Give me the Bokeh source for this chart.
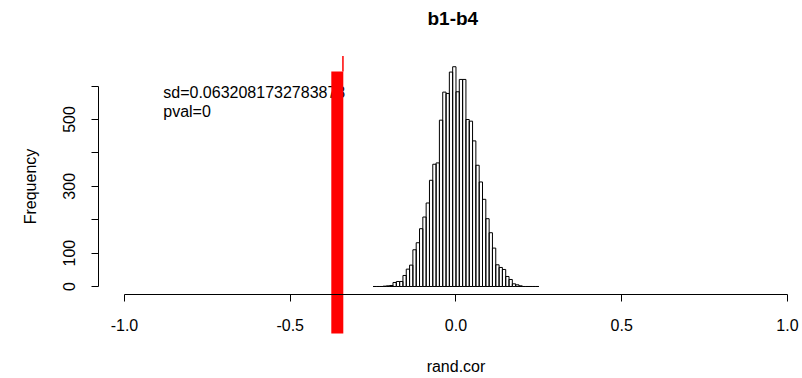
import numpy as np
from bokeh.plotting import figure
from bokeh.models import LinearAxis, Range1d, FixedTicker, Title, ColumnDataSource
from bokeh.embed import file_html
from bokeh.resources import INLINE
from bokeh.core.properties import value

# ---- data ----
bin_start = -0.25
bin_width = 0.01
counts = [0, 0, 0, 1, 2, 3, 12, 15, 15, 33, 52, 64, 110, 131, 173, 208, 250, 318,
          366, 370, 498, 582, 578, 642, 658,
          583, 620, 620, 500, 495, 436, 363, 313, 261, 203, 161, 115, 65, 57, 51,
          30, 21, 8, 5, 2, 0, 0, 0, 0, 0]
observed_cor = [-0.358]
observed_bar_y = [-141, 644]
observed_line_x = [-0.341]
observed_line_y = [644, 690]
sd_text = "sd=0.0632081732783878"
pval_text = "pval=0"
annot_x = [-0.883, -0.883]
annot_y = [581, 524]
x_ticks = [-1.0, -0.5, 0.0, 0.5, 1.0]
x_tick_labels = ["-1.0", "-0.5", "0.0", "0.5", "1.0"]
y_ticks = [0, 100, 200, 300, 400, 500, 600]
y_tick_labels = ["0", "100", "", "300", "", "500", ""]

n = len(counts)
left = [round(bin_start + bin_width * i, 4) for i in range(n)]
right = [round(bin_start + bin_width * (i + 1), 4) for i in range(n)]
src = ColumnDataSource(dict(left=left, right=right, top=counts, bottom=[0] * n))

FONT = "Liberation Sans"

p = figure(frame_width=800, frame_height=342, output_backend="svg",
           toolbar_location=None, x_axis_location=None, y_axis_location=None,
           x_range=Range1d(-1.374, -1.374 + 800 / 331.5),
           y_range=Range1d(-266.5, 757.5),
           min_border=0)
p.outline_line_color = None
p.xgrid.visible = False
p.ygrid.visible = False
p.background_fill_color = "white"
p.border_fill_color = "white"

t = Title(text="b1-b4", align="left", offset=427, text_font=FONT,
          text_font_size="19px", text_font_style="bold", text_color="black")
p.add_layout(t, "above")

xaxis = LinearAxis(fixed_location=-24, bounds=(-1, 1),
                   ticker=FixedTicker(ticks=x_ticks),
                   major_label_overrides={t_: l for t_, l in zip(x_ticks, x_tick_labels)},
                   axis_label="rand.cor")
yaxis = LinearAxis(fixed_location=-1.078, bounds=(0, 600),
                   ticker=FixedTicker(ticks=y_ticks),
                   major_label_overrides={t_: l for t_, l in zip(y_ticks, y_tick_labels)},
                   axis_label="Frequency", major_label_orientation="vertical")
for ax in (xaxis, yaxis):
    ax.axis_line_color = "black"
    ax.major_tick_line_color = "black"
    ax.minor_tick_line_color = None
    ax.major_tick_out = 7
    ax.major_tick_in = 0
    ax.major_label_text_font = FONT
    ax.major_label_text_font_size = "16px"
    ax.major_label_text_color = "black"
    ax.axis_label_text_font = FONT
    ax.axis_label_text_font_size = "16px"
    ax.axis_label_text_font_style = "normal"
    ax.axis_label_text_color = "black"
xaxis.major_label_standoff = 17
xaxis.axis_label_standoff = 24
yaxis.major_label_standoff = 17
yaxis.axis_label_standoff = 21
p.add_layout(xaxis, "below")
p.add_layout(yaxis, "left")

p.quad(left="left", right="right", top="top", bottom="bottom", source=src,
       fill_color=None, line_color="black", line_width=1)

p.text(x=annot_x, y=annot_y, text=[sd_text, pval_text], text_font=value(FONT),
       text_font_size="16px", text_align="left", text_baseline="middle",
       text_color="black")

p.segment(x0=observed_cor, x1=observed_cor, y0=[observed_bar_y[0]], y1=[observed_bar_y[1]],
          line_color="red", line_width=12, line_cap="butt")
p.segment(x0=observed_line_x, x1=observed_line_x, y0=[observed_line_y[0]],
          y1=[observed_line_y[1]], line_color="red", line_width=1.5)

open("out.html", "w").write(file_html(p, INLINE))
